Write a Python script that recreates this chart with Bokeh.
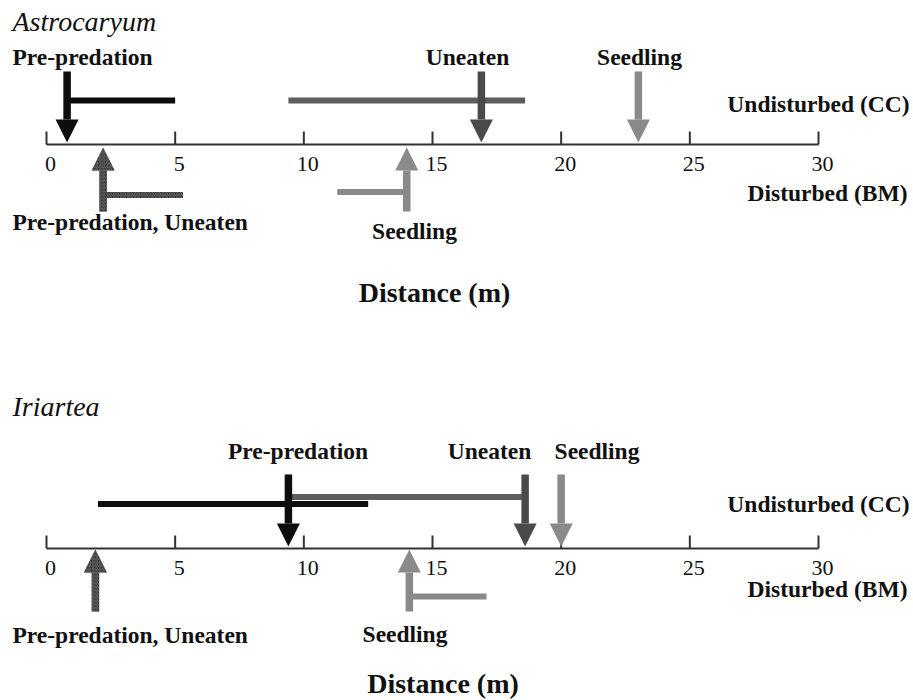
import math
from bokeh.plotting import figure
from bokeh.models import Range1d
from bokeh.core.properties import value
from bokeh.embed import file_html
from bokeh.resources import INLINE

nan = float("nan")

# ---------------- data ----------------
ticks = [0, 5, 10, 15, 20, 25, 30]
tick_labels = ["0", "5", "10", "15", "20", "25", "30"]

# Astrocaryum - undisturbed (CC): median arrows and ranges
astro_cc_series = ["Pre-predation", "Uneaten", "Seedling"]
astro_cc_median = [0.8, 16.9, 23.0]
astro_cc_lo = [0.8, 9.4, nan]
astro_cc_hi = [5.0, 18.6, nan]
# Astrocaryum - disturbed (BM)
astro_bm_series = ["Pre-predation, Uneaten", "Seedling"]
astro_bm_median = [2.2, 14.0]
astro_bm_lo = [2.2, 11.3]
astro_bm_hi = [5.3, 14.0]

# Iriartea - undisturbed (CC)
iri_cc_series = ["Pre-predation", "Uneaten", "Seedling"]
iri_cc_median = [9.4, 18.6, 20.0]
iri_cc_lo = [2.0, 9.4, nan]
iri_cc_hi = [12.5, 18.6, nan]
# Iriartea - disturbed (BM)
iri_bm_series = ["Pre-predation, Uneaten", "Seedling"]
iri_bm_median = [1.9, 14.1]
iri_bm_lo = [nan, 14.1]
iri_bm_hi = [nan, 17.1]

# ---------------- styles ----------------
arrow_color = {"Pre-predation": "#0d0d0d", "Uneaten": "#4a4a4a",
               "Seedling": "#8a8a8a", "Pre-predation, Uneaten": "#242424"}
bar_color = {"Pre-predation": "#0d0d0d", "Uneaten": "#5e5e5e",
             "Seedling": "#8a8a8a", "Pre-predation, Uneaten": "#242424"}
hatched = {"Pre-predation, Uneaten"}
HATCH = dict(hatch_pattern="right_diagonal_line", hatch_color="#6e6e6e",
             hatch_scale=3.5, hatch_weight=1)

FONT = value("Liberation Serif")
W, H = 913, 700
X0_PX, X30_PX = 46, 818
PX = (X30_PX - X0_PX) / 30.0

p = figure(width=W, height=H, output_backend="svg", toolbar_location=None,
           x_range=Range1d(-X0_PX / PX, (W - X0_PX) / PX), y_range=Range1d(H, 0),
           x_axis_type=None, y_axis_type=None, min_border=0,
           outline_line_color=None, background_fill_color="white",
           border_fill_color="white")
p.grid.visible = False

SHAFT_W = 7.5
HEAD_W = 23
HEAD_L = 23
BAR_H = 6


def px2x(px):
    return (px - X0_PX) / PX


def draw_bars(series, lo, hi, y, order):
    for i in order:
        if math.isnan(lo[i]):
            continue
        s = series[i]
        kw = HATCH if s in hatched else {}
        p.rect(x=[(lo[i] + hi[i]) / 2], y=[y[i]],
               width=[hi[i] - lo[i]], height=BAR_H, height_units="screen",
               fill_color=bar_color[s], line_color=None, **kw)


def draw_arrows(series, pos, tip, tail):
    for s, x in zip(series, pos):
        d = 1 if tip > tail else -1
        base = tip - d * HEAD_L
        kw = HATCH if s in hatched else {}
        p.rect(x=[x], y=[(tail + base) / 2 - d * 0.5], width=SHAFT_W, width_units="screen",
               height=[abs(base - tail) + 1], fill_color=arrow_color[s], line_color=None, **kw)
        hw = HEAD_W / 2 / PX
        p.patches(xs=[[x - hw, x + hw, x]], ys=[[base, base, tip]],
                  fill_color=arrow_color[s], line_color=None, **kw)


def text(xs, ys, labels, size, align="center", style="bold", x_offset=0):
    p.text(x=xs, y=ys, text=labels, text_font=FONT, text_font_style=style,
           text_font_size=size, text_align=align, text_baseline="middle",
           text_color="#111111", x_offset=x_offset)


panels = [
    dict(title="Astrocaryum", title_y=21, axis_y=144,
         cc=(astro_cc_series, astro_cc_median, astro_cc_lo, astro_cc_hi),
         bm=(astro_bm_series, astro_bm_median, astro_bm_lo, astro_bm_hi),
         cc_tail=72, cc_tip=142, cc_bar_y=[100, 100, 100],
         bm_tip=147, bm_tail=210, bm_bar_y=[194.5, 191.5],
         top_label_y=56.5, top_label_x=[("left", px2x(12)), ("center", px2x(467)), ("center", px2x(639))],
         bm_label_y=[221.5, 230], bm_label_x=[("left", px2x(12)), ("center", px2x(414))],
         und_y=103.5, dis_y=192.5, tick_y=163.5, dist_x=px2x(434), dist_y=292,
         bar_order=[0, 1]),
    dict(title="Iriartea", title_y=405.5, axis_y=548,
         cc=(iri_cc_series, iri_cc_median, iri_cc_lo, iri_cc_hi),
         bm=(iri_bm_series, iri_bm_median, iri_bm_lo, iri_bm_hi),
         cc_tail=475, cc_tip=546, cc_bar_y=[503.5, 496.5, 496.5],
         bm_tip=549, bm_tail=610, bm_bar_y=[596, 596],
         top_label_y=450.5, top_label_x=[("center", px2x(297.5)), ("center", px2x(489)), ("center", px2x(596.5))],
         bm_label_y=[634.5, 633.5], bm_label_x=[("left", px2x(12)), ("center", px2x(404.5))],
         und_y=503.5, dis_y=588.5, tick_y=567.5, dist_x=px2x(442.5), dist_y=682.5,
         bar_order=[1, 0]),
]

for pn in panels:
    ay = pn["axis_y"]
    # number line
    p.segment(x0=[ticks[0]], y0=[ay], x1=[ticks[-1]], y1=[ay], line_width=2, line_color="#333333")
    p.segment(x0=ticks, y0=[ay - 13] * len(ticks), x1=ticks, y1=[ay] * len(ticks),
              line_width=2, line_color="#333333")
    text(ticks, [pn["tick_y"]] * len(ticks), tick_labels, "22px", style="normal", x_offset=4)

    cs, cm, clo, chi = pn["cc"]
    bs, bmed, blo, bhi = pn["bm"]
    draw_bars(cs, clo, chi, pn["cc_bar_y"], pn["bar_order"])
    draw_bars(bs, blo, bhi, pn["bm_bar_y"], [0, 1])
    draw_arrows(cs, cm, pn["cc_tip"], pn["cc_tail"])
    draw_arrows(bs, bmed, pn["bm_tip"], pn["bm_tail"])

    # labels
    for (al, lx), s in zip(pn["top_label_x"], cs):
        text([lx], [pn["top_label_y"]], [s], "23.5px", align=al)
    for (al, lx), s, ly in zip(pn["bm_label_x"], bs, pn["bm_label_y"]):
        text([lx], [ly], [s], "23.5px", align=al)
    text([px2x(909)], [pn["und_y"]], ["Undisturbed (CC)"], "23.5px", align="right")
    text([px2x(907)], [pn["dis_y"]], ["Disturbed (BM)"], "23.5px", align="right")
    text([px2x(12)], [pn["title_y"]], [pn["title"]], "28px", align="left", style="italic")
    text([pn["dist_x"]], [pn["dist_y"]], ["Distance (m)"], "28px")

open("out.html", "w").write(file_html(p, INLINE))
